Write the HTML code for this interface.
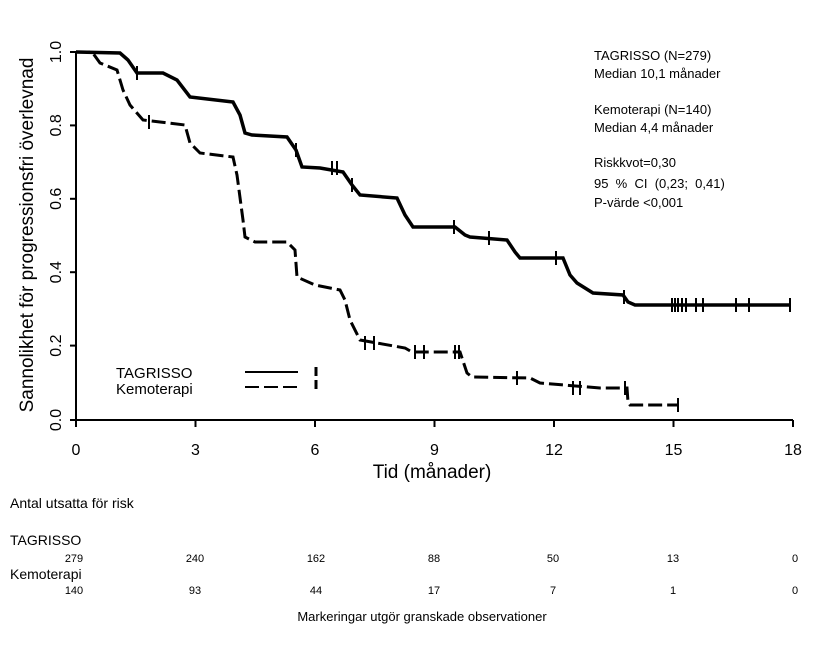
<!DOCTYPE html>
<html><head><meta charset="utf-8"><style>
html,body{margin:0;padding:0;background:#fff}
svg{display:block}
text{font-family:"Liberation Sans",sans-serif;fill:#000}
</style></head><body>
<svg width="820" height="662" viewBox="0 0 820 662" xmlns="http://www.w3.org/2000/svg">
<!-- axes -->
<g stroke="#000" stroke-width="2" fill="none">
<line x1="76" y1="52" x2="76" y2="420"/>
<line x1="70" y1="52" x2="76" y2="52"/><line x1="70" y1="125.4" x2="76" y2="125.4"/><line x1="70" y1="198.8" x2="76" y2="198.8"/><line x1="70" y1="272.2" x2="76" y2="272.2"/><line x1="70" y1="345.6" x2="76" y2="345.6"/><line x1="70" y1="420" x2="76" y2="420"/>
<line x1="76" y1="420" x2="793" y2="420"/>
<line x1="76" y1="420" x2="76" y2="427"/><line x1="195.5" y1="420" x2="195.5" y2="427"/><line x1="315" y1="420" x2="315" y2="427"/><line x1="434.5" y1="420" x2="434.5" y2="427"/><line x1="554" y1="420" x2="554" y2="427"/><line x1="673.5" y1="420" x2="673.5" y2="427"/><line x1="793" y1="420" x2="793" y2="427"/>
</g>
<g font-size="16" text-anchor="middle">
<text x="76" y="455">0</text><text x="195.5" y="455">3</text><text x="315" y="455">6</text><text x="434.5" y="455">9</text><text x="554" y="455">12</text><text x="673.5" y="455">15</text><text x="793" y="455">18</text>
</g>
<g font-size="16" text-anchor="middle">
<text transform="translate(61,420) rotate(-90)">0.0</text>
<text transform="translate(61,345.6) rotate(-90)">0.2</text>
<text transform="translate(61,272.2) rotate(-90)">0.4</text>
<text transform="translate(61,198.8) rotate(-90)">0.6</text>
<text transform="translate(61,125.4) rotate(-90)">0.8</text>
<text transform="translate(61,52) rotate(-90)">1.0</text>
</g>
<text transform="translate(33,235) rotate(-90)" font-size="19" text-anchor="middle">Sannolikhet för progressionsfri överlevnad</text>
<text x="432" y="478" font-size="19" text-anchor="middle">Tid (månader)</text>
<!-- curves -->
<polyline fill="none" stroke="#000" stroke-width="3.5" points="76,52 120,53 128,60 137,73 163,73 177,80 190,97 233,102 240,115 245,133 252,135 287,137 296,150 302,167 320,168 343,172 352,185 360,195 397,198 405,215 413,227 455,227 465,235 470,237 507,240 515,252 520,258 563,258 570,275 577,283 593,293 623,295 628,302 635,305 790,305"/>
<polyline fill="none" stroke="#000" stroke-width="3" stroke-dasharray="14,5" points="76,52 92,52 100,63 117,70 123,90 130,105 143,120 160,122 185,125 190,143 200,153 233,157 237,175 243,220 245,237 255,242 287,242 295,250 297,277 315,285 340,290 345,300 350,320 360,340 405,348 412,352 460,352 467,373 472,377 530,378 540,383 600,388 627,388 628,402 630,405 678,405"/>
<g stroke="#000" stroke-width="2">
<line x1="137" y1="66" x2="137" y2="80"/><line x1="296" y1="143" x2="296" y2="157"/><line x1="332" y1="161" x2="332" y2="175"/><line x1="337" y1="161" x2="337" y2="175"/><line x1="352" y1="178" x2="352" y2="192"/><line x1="454" y1="220" x2="454" y2="234"/><line x1="489" y1="231" x2="489" y2="245"/><line x1="556" y1="251" x2="556" y2="265"/><line x1="624" y1="290" x2="624" y2="304"/>
<line x1="672" y1="298" x2="672" y2="312"/><line x1="675" y1="298" x2="675" y2="312"/><line x1="678" y1="298" x2="678" y2="312"/><line x1="682" y1="298" x2="682" y2="312"/><line x1="686" y1="298" x2="686" y2="312"/><line x1="696" y1="298" x2="696" y2="312"/><line x1="703" y1="298" x2="703" y2="312"/><line x1="736" y1="298" x2="736" y2="312"/><line x1="749" y1="298" x2="749" y2="312"/><line x1="790" y1="298" x2="790" y2="312"/>
<line x1="149" y1="115" x2="149" y2="129"/><line x1="365" y1="336" x2="365" y2="350"/><line x1="374" y1="336" x2="374" y2="350"/><line x1="415" y1="345" x2="415" y2="359"/><line x1="424" y1="345" x2="424" y2="359"/><line x1="455" y1="345" x2="455" y2="359"/><line x1="459" y1="345" x2="459" y2="359"/><line x1="517" y1="371" x2="517" y2="385"/><line x1="573" y1="381" x2="573" y2="395"/><line x1="580" y1="381" x2="580" y2="395"/><line x1="625" y1="381" x2="625" y2="395"/><line x1="678" y1="398" x2="678" y2="412"/>
</g>
<!-- legend -->
<text x="116" y="378" font-size="15">TAGRISSO</text>
<text x="116" y="394" font-size="15">Kemoterapi</text>
<line x1="245" y1="372" x2="298" y2="372" stroke="#000" stroke-width="2"/>
<line x1="245" y1="387" x2="298" y2="387" stroke="#000" stroke-width="2" stroke-dasharray="14,5"/>
<line x1="316" y1="367" x2="316" y2="392" stroke="#000" stroke-width="3" stroke-dasharray="9,4"/>
<!-- annotations -->
<g font-size="13">
<text x="594" y="60">TAGRISSO (N=279)</text>
<text x="594" y="78">Median 10,1 månader</text>
<text x="594" y="114">Kemoterapi (N=140)</text>
<text x="594" y="132">Median 4,4 månader</text>
<text x="594" y="167">Riskkvot=0,30</text>
<text x="594" y="188" xml:space="preserve">95  %  CI  (0,23;  0,41)</text>
<text x="594" y="207">P-värde &lt;0,001</text>
</g>
<!-- risk table -->
<text x="10" y="508" font-size="14">Antal utsatta för risk</text>
<text x="10" y="545" font-size="14">TAGRISSO</text>
<text x="10" y="579" font-size="14">Kemoterapi</text>
<g font-size="11" text-anchor="middle">
<text x="74" y="562">279</text><text x="195" y="562">240</text><text x="316" y="562">162</text><text x="434" y="562">88</text><text x="553" y="562">50</text><text x="673" y="562">13</text><text x="795" y="562">0</text>
<text x="74" y="594">140</text><text x="195" y="594">93</text><text x="316" y="594">44</text><text x="434" y="594">17</text><text x="553" y="594">7</text><text x="673" y="594">1</text><text x="795" y="594">0</text>
</g>
<text x="422" y="621" font-size="13" text-anchor="middle">Markeringar utgör granskade observationer</text>
</svg>
</body></html>
